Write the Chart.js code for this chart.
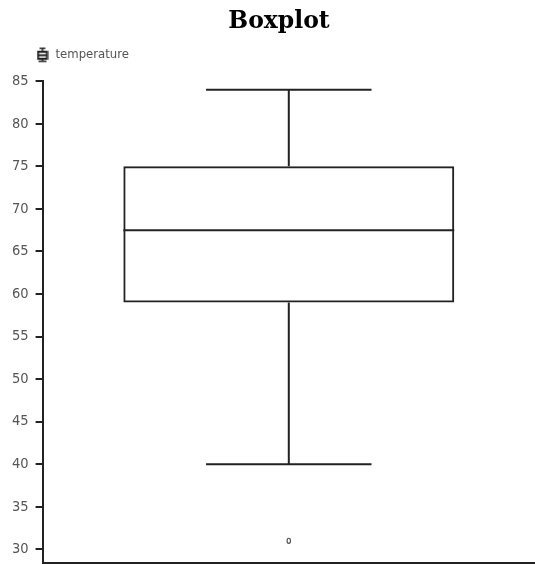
<!DOCTYPE html>
<html>
<head>
<meta charset="utf-8">
<script src="https://cdn.jsdelivr.net/npm/chart.js@4/dist/chart.umd.min.js"></script>
<style>
  html, body { margin: 0; padding: 0; background: #fff; }
  #wrap { width: 535px; height: 564px; }
</style>
</head>
<body>
<div id="wrap"><canvas id="myChart"></canvas></div>
<script>
// boxplot stats, one entry per category
const categories = ['temperature'];
const q1 = [59];
const median = [67.5];
const q3 = [75];
const whiskerMin = [40];
const whiskerMax = [84];
const outliers = [[31]];

const yTicks = [30, 35, 40, 45, 50, 55, 60, 65, 70, 75, 80, 85];
const yMin = 28.4;
const yMax = 85;

const lineColor = '#222';

// small boxplot icon for the legend
const makeIcon = () => {
    const c = document.createElement('canvas');
    c.width = 12;
    c.height = 16;
    const g = c.getContext('2d');
    g.strokeStyle = lineColor;
    g.lineWidth = 1.5;
    g.beginPath();
    g.moveTo(3, 1.5); g.lineTo(9, 1.5);
    g.moveTo(6, 1.5); g.lineTo(6, 5);
    g.moveTo(6, 12); g.lineTo(6, 14.5);
    g.moveTo(2, 14.5); g.lineTo(10, 14.5);
    g.stroke();
    g.lineWidth = 2;
    g.strokeRect(1.5, 5, 9, 7);
    g.beginPath();
    g.moveTo(1.5, 8.5); g.lineTo(10.5, 8.5);
    g.stroke();
    return c;
};

// median, whiskers and outliers drawn on top of the floating bar
const boxParts = {
    id: 'boxParts',
    afterDatasetsDraw(chart) {
        const y = chart.scales.y;
        const meta = chart.getDatasetMeta(0);
        const ctx = chart.ctx;
        ctx.save();
        meta.data.forEach((bar, i) => {
            const half = bar.width / 2;
            const cap = half / 2;
            ctx.strokeStyle = lineColor;
            ctx.lineWidth = 2;
            ctx.beginPath();
            // median
            ctx.moveTo(bar.x - half, y.getPixelForValue(median[i]));
            ctx.lineTo(bar.x + half, y.getPixelForValue(median[i]));
            // upper whisker
            ctx.moveTo(bar.x, y.getPixelForValue(q3[i]));
            ctx.lineTo(bar.x, y.getPixelForValue(whiskerMax[i]));
            ctx.moveTo(bar.x - cap, y.getPixelForValue(whiskerMax[i]));
            ctx.lineTo(bar.x + cap, y.getPixelForValue(whiskerMax[i]));
            // lower whisker
            ctx.moveTo(bar.x, y.getPixelForValue(q1[i]));
            ctx.lineTo(bar.x, y.getPixelForValue(whiskerMin[i]));
            ctx.moveTo(bar.x - cap, y.getPixelForValue(whiskerMin[i]));
            ctx.lineTo(bar.x + cap, y.getPixelForValue(whiskerMin[i]));
            ctx.stroke();
            // outliers
            ctx.lineWidth = 1.2;
            ctx.strokeStyle = '#555';
            for (let v of outliers[i]) {
                ctx.beginPath();
                ctx.ellipse(bar.x, y.getPixelForValue(v), 1.7, 2.6, 0, 0, Math.PI * 2);
                ctx.stroke();
            }
        });
        ctx.restore();
    }
};

// extra gap under the legend, and nudge title / legend sideways
const legendMargin = {
    id: 'legendMargin',
    beforeInit(chart) {
        const fit = chart.legend.fit;
        chart.legend.fit = function () {
            fit.bind(chart.legend)();
            this.height += 10;
        };
    },
    afterLayout(chart) {
        chart.legend.left += 21;
        chart.titleBlock.left += 18;
    }
};

const icon = makeIcon();
const ctx = document.getElementById('myChart').getContext('2d');

const myChart = new Chart(ctx, {
    type: 'bar',
    data: {
        labels: categories,
        datasets: [{
            label: 'temperature',
            data: categories.map((c, i) => [q1[i], q3[i]]),
            backgroundColor: 'rgba(255,255,255,0)',
            borderColor: lineColor,
            borderWidth: 2,
            borderSkipped: false,
            barPercentage: 0.84,
            categoryPercentage: 0.8
        }]
    },
    options: {
        responsive: true,
        maintainAspectRatio: false,
        animation: false,
        layout: { padding: { left: 5, right: 0, top: 0, bottom: 1 } },
        plugins: {
            title: {
                display: true,
                text: 'Boxplot',
                color: '#000',
                font: { family: 'DejaVu Serif', size: 23.5, weight: 'bold' },
                padding: { top: 8, bottom: 2 }
            },
            legend: {
                align: 'start',
                labels: {
                    color: '#555',
                    font: { family: 'DejaVu Sans Condensed', size: 13 },
                    usePointStyle: true,
                    generateLabels: (chart) => [{
                        text: chart.data.datasets[0].label,
                        pointStyle: icon,
                        fontColor: '#555',
                        datasetIndex: 0
                    }]
                }
            },
            tooltip: { enabled: false }
        },
        scales: {
            x: {
                ticks: { display: false, padding: 0 },
                grid: { display: false, drawTicks: false },
                border: { color: lineColor, width: 2 }
            },
            y: {
                min: yMin,
                max: yMax,
                afterBuildTicks: (scale) => {
                    scale.ticks = yTicks.map(v => ({ value: v }));
                },
                afterFit: (scale) => {
                    scale.paddingBottom = 0;
                },
                ticks: {
                    color: '#555',
                    padding: 7,
                    font: { family: 'DejaVu Sans Condensed', size: 14.5 }
                },
                grid: { drawOnChartArea: false, drawTicks: true, tickLength: 7, color: lineColor, lineWidth: 2 },
                border: { color: lineColor, width: 2 }
            }
        }
    },
    plugins: [boxParts, legendMargin]
});
</script>
</body>
</html>
